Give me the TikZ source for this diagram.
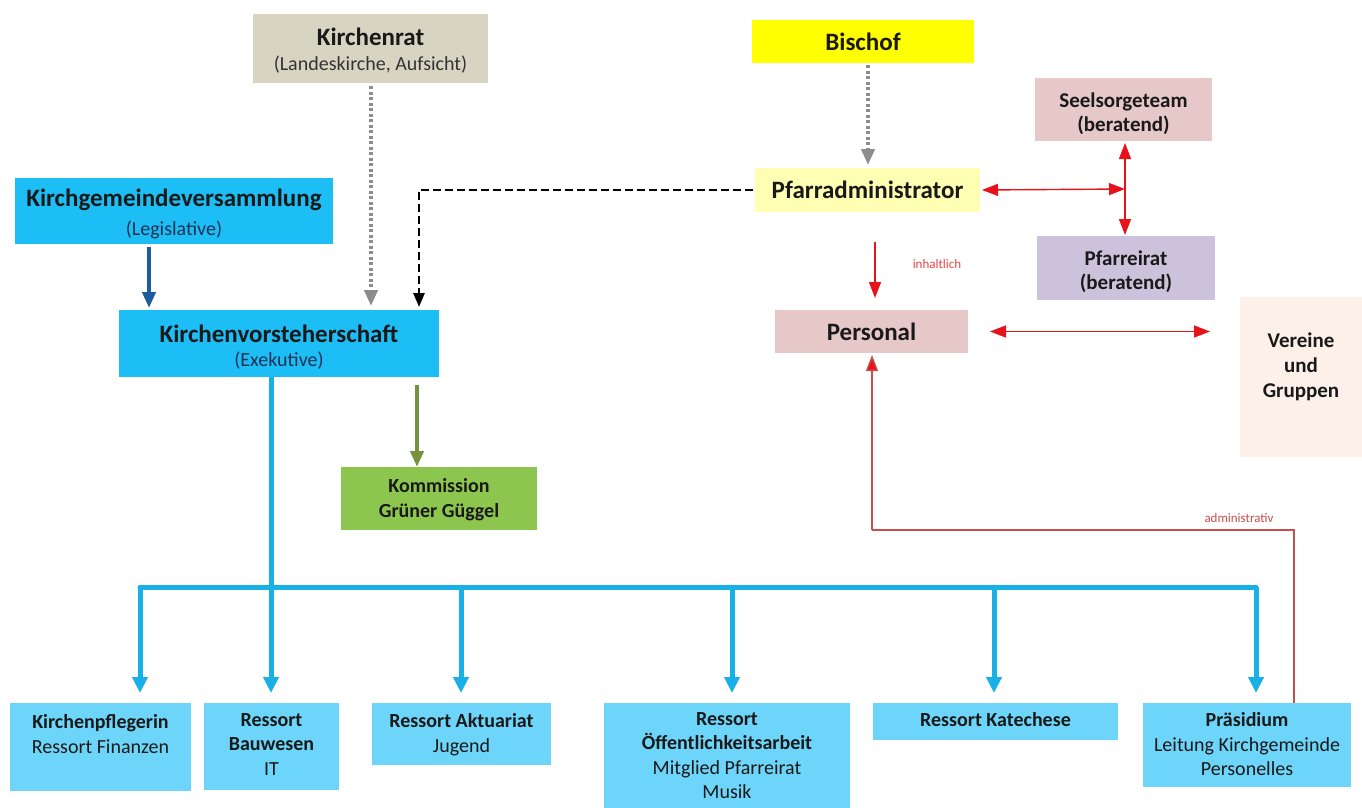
\documentclass[tikz,border=0pt]{standalone}
\usepackage{fontspec}
\setmainfont{Carlito}
\usetikzlibrary{arrows.meta}
\definecolor{krc}{RGB}{216,212,194}
\definecolor{bic}{RGB}{255,255,0}
\definecolor{pac}{RGB}{255,255,180}
\definecolor{pinkc}{RGB}{230,200,200}
\definecolor{lavc}{RGB}{204,194,220}
\definecolor{verc}{RGB}{252,240,232}
\definecolor{greenc}{RGB}{141,198,78}
\definecolor{cyanc}{RGB}{28,190,245}
\definecolor{lcyanc}{RGB}{110,213,250}
\definecolor{busc}{RGB}{24,176,230}
\definecolor{dblue}{RGB}{30,92,158}
\definecolor{dgreen}{RGB}{118,146,60}
\definecolor{dgray}{RGB}{140,140,140}
\definecolor{redc}{RGB}{230,20,26}
\definecolor{admc}{RGB}{196,80,78}
\definecolor{txt}{RGB}{25,25,25}
\definecolor{subtxt}{RGB}{30,50,85}
\newcommand\mytitle[1]{{\fontsize{25}{28}\selectfont\bfseries #1}}
\newcommand\mysub[1]{{\fontsize{20}{26}\selectfont #1}}
\begin{document}
\begin{tikzpicture}[x=1pt,y=-1pt,
  box/.style={inner sep=0pt, outer sep=0pt, align=center, text=txt},
  ttext/.style={inner sep=0pt, outer sep=0pt, align=center, text=txt},
  btext/.style={inner sep=0pt, outer sep=0pt, align=center, text=txt, font=\fontsize{20}{24.5}\selectfont, anchor=north},
  mtext/.style={inner sep=0pt, outer sep=0pt, align=center, text=txt, font=\fontsize{21}{24}\selectfont\bfseries},
  busline/.style={draw=busc, line width=5pt},
  busarrow/.style={draw=busc, line width=5pt, -{Triangle[width=15pt,length=16pt]}, shorten >=10pt},
  grayarrow/.style={draw=dgray, line width=4pt, dash pattern=on 3pt off 2.5pt, -{Triangle[width=13pt,length=16pt]}},
  blackarrow/.style={draw=black, line width=2.7pt, dash pattern=on 8pt off 4pt, -{Triangle[width=11pt,length=14pt]}},
  redarrow/.style={draw=redc, line width=1.4pt, -{Triangle[width=12pt,length=16pt]}},
  reddouble/.style={draw=redc, line width=1.4pt, {Triangle[width=12pt,length=16pt]}-{Triangle[width=12pt,length=16pt]}},
  admline/.style={draw=admc, line width=1.3pt},
  smalllabel/.style={inner sep=0pt, font=\fontsize{13}{15}\selectfont, text=redc!80}
]
\useasboundingbox (0,0) rectangle (1362,807);
\fill[white] (0,0) rectangle (1362,807);

% --- top boxes
\node[box, fill=krc, minimum width=235pt, minimum height=69pt] (kr) at (370.5,48.5) {};
\node[ttext] (krt) at ([yshift=-2pt]kr.center)
  {\mytitle{Kirchenrat}\\[9pt]\mysub{\color{black!80}(Landeskirche, Aufsicht)}};
\node[box, fill=bic, minimum width=222pt, minimum height=43pt] (bi) at (863,41.5)
  {\mytitle{Bischof}};
\node[box, fill=cyanc, minimum width=318pt, minimum height=66pt] (kgv) at (174,211) {};
\node[ttext] (kgvt) at ([yshift=-3pt]kgv.center)
  {\mytitle{Kirchgemeindeversammlung}\\[9pt]\mysub{\color{subtxt}(Legislative)}};
\node[box, fill=cyanc, minimum width=320pt, minimum height=67pt] (kvs) at (279,343.5) {};
\node[ttext] (kvst) at ([yshift=-4pt]kvs.center)
  {\mytitle{Kirchenvorsteherschaft}\\[8pt]\mysub{\color{subtxt}(Exekutive)}};
\node[box, fill=pac, minimum width=225pt, minimum height=44pt] (pa) at (867.5,190)
  {\mytitle{Pfarradministrator}};
\node[box, fill=pinkc, minimum width=177pt, minimum height=63pt] (se) at (1123.5,109.5) {};
\node[mtext] (set) at ([yshift=-4pt]se.center) {Seelsorgeteam\\(beratend)};
\node[box, fill=lavc, minimum width=178pt, minimum height=64pt] (pr) at (1126,268) {};
\node[mtext] (prt) at ([yshift=-3.5pt]pr.center) {Pfarreirat\\(beratend)};
\node[box, fill=pinkc, minimum width=193pt, minimum height=43pt] (pe) at (871.5,331.5)
  {\mytitle{Personal}};
\node[box, fill=verc, minimum width=122pt, minimum height=160pt] (ve) at (1301,377) {};
\node[mtext, font=\fontsize{21}{25}\selectfont\bfseries] (vet) at (1301,366.5) {Vereine\\und\\Gruppen};
\node[box, fill=greenc, minimum width=196pt, minimum height=63pt] (ko) at (439,498.5) {};
\node[mtext, font=\fontsize{20}{25}\selectfont\bfseries] (kot) at ([yshift=-1.5pt]ko.center) {Kommission\\Grüner Güggel};

% --- bottom boxes
\node[box, fill=lcyanc, minimum width=181pt, minimum height=88pt] (kp) at (100.5,747) {};
\node[btext] (kpt) at (100.5,714.5) {\textbf{Kirchenpflegerin}\\Ressort Finanzen};
\node[box, fill=lcyanc, minimum width=135pt, minimum height=87pt] (bw) at (271.5,746.5) {};
\node[btext] (bwt) at (271.5,713.5) {\textbf{Ressort}\\\textbf{Bauwesen}\\IT};
\node[box, fill=lcyanc, minimum width=179pt, minimum height=62pt] (ak) at (461.5,734) {};
\node[btext] (akt) at (461.5,713.5) {\textbf{Ressort Aktuariat}\\Jugend};
\node[box, fill=lcyanc, minimum width=246pt, minimum height=110pt] (oe) at (727,758) {};
\node[btext] (oet) at (727,712.5) {\textbf{Ressort}\\\textbf{Öffentlichkeitsarbeit}\\Mitglied Pfarreirat\\Musik};
\node[box, fill=lcyanc, minimum width=245pt, minimum height=37pt] (ka) at (995.5,721.5) {};
\node[btext] (kat) at (995.5,712.5) {\textbf{Ressort Katechese}};
\node[box, fill=lcyanc, minimum width=208pt, minimum height=84pt] (pd) at (1247,745) {};
\node[btext] (pdt) at (1247,712.5) {\textbf{Präsidium}\\Leitung Kirchgemeinde\\Personelles};

% --- labels
\node[smalllabel] (lin) at (937,264) {inhaltlich};
\node[smalllabel, text=admc] (lad) at (1239,518) {administrativ};

% --- coordinates
\coordinate (xa) at (149,0);
\coordinate (xk) at (371,0);
\coordinate (xd) at (419,0);
\coordinate (xb) at (868,0);
\coordinate (jn) at (1125,189);
\coordinate (ia) at (875,242);
\coordinate (xg) at (417,0);
\coordinate (adm) at (1294,530);
\coordinate (xp) at (872,0);
\coordinate (bus) at (271,587);
\coordinate (b1) at (140,587);
\coordinate (b3) at (461,587);
\coordinate (b4) at (732,587);
\coordinate (b5) at (994,587);
\coordinate (b6) at (1256,587);

% --- connectors
\draw[draw=dblue, line width=4pt, -{Triangle[width=13pt,length=16pt]}, shorten <=3pt, shorten >=2pt]
  (kgv.south -| xa) -- (kvs.north -| xa);
\draw[grayarrow, shorten <=3pt, shorten >=4pt] (kr.south -| xk) -- (kvs.north -| xk);
\draw[blackarrow, shorten <=2pt, shorten >=3pt] (pa.west) -| (kvs.north -| xd);
\draw[grayarrow, shorten <=2pt, shorten >=3pt] (bi.south -| xb) -- (pa.north -| xb);
\draw[reddouble, shorten <=2pt] (pa.east) -- (jn);
\draw[reddouble, shorten <=2pt, shorten >=1pt] (se.south -| jn) -- (pr.north -| jn);
\draw[redarrow, shorten >=12pt] (ia) -- (pe.north -| ia);
\draw[reddouble, shorten <=22pt, shorten >=30pt] (pe.east) -- (ve.west |- pe.east);
\draw[draw=dgreen, line width=4pt, -{Triangle[width=13pt,length=16pt]}, shorten <=8pt]
  (kvs.south -| xg) -- (ko.north -| xg);
\draw[admline] (pd.north -| adm) -- (adm) -- (adm -| xp);
\draw[admline, -{Triangle[width=12pt,length=16pt,fill=redc]}, shorten >=2pt] (adm -| xp) -- (pe.south -| xp);

% --- bus
\draw[busline] (kvs.south -| bus) -- (bus);
\draw[busline, line cap=round] (b1) -- (b6);
\draw[busarrow] (b1) -- (kp.north -| b1);
\draw[busarrow] (bus) -- (bw.north -| bus);
\draw[busarrow] (b3) -- (ak.north -| b3);
\draw[busarrow] (b4) -- (oe.north -| b4);
\draw[busarrow] (b5) -- (ka.north -| b5);
\draw[busarrow] (b6) -- (pd.north -| b6);
\end{tikzpicture}
\end{document}
